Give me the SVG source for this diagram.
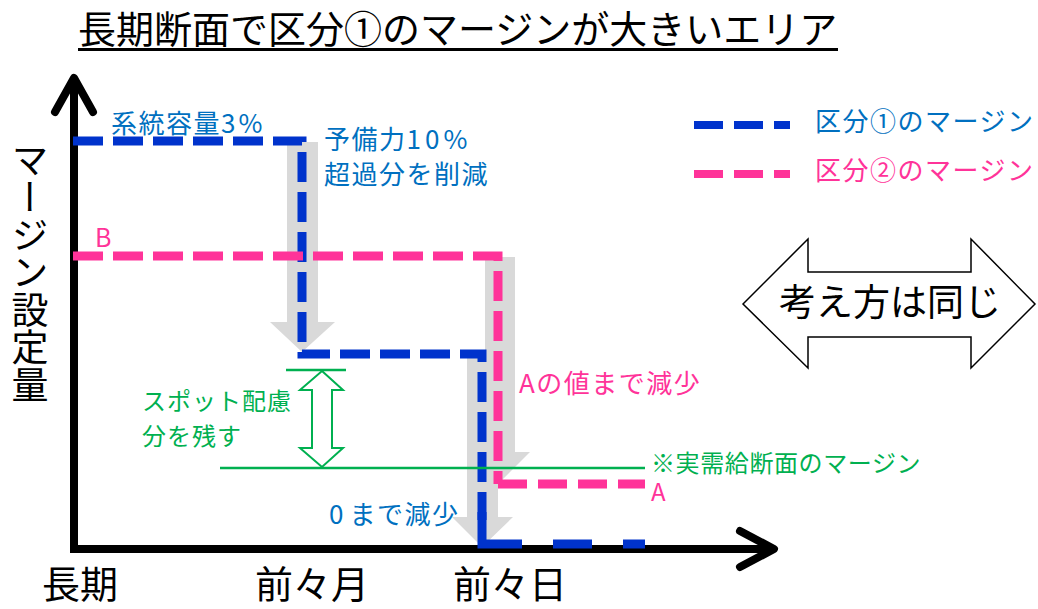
<svg xmlns="http://www.w3.org/2000/svg" width="1038" height="609" viewBox="0 0 1038 609">
<style>
text { font-family: "Noto Sans CJK JP", "Noto Sans", sans-serif; }
.k { fill:#000; font-size:38px; }
.bt { fill:#0070C0; font-size:26px; letter-spacing:1.5px; }
.pt { fill:#FF3399; font-size:26px; letter-spacing:1.5px; }
.gt { fill:#00B050; font-size:24px; letter-spacing:1px; }
.gray { fill:#D9D9D9; }
.bl { fill:none; stroke:#0033CC; stroke-width:9; stroke-dasharray:30 10; stroke-linejoin:miter; }
.pl { fill:none; stroke:#FF3399; stroke-width:9; stroke-dasharray:30 10; stroke-linejoin:miter; }
.ax { fill:none; stroke:#000; stroke-width:8; }
.gl { fill:none; stroke:#00B050; stroke-width:2.5; }
</style>
<rect width="1038" height="609" fill="#fff"/>

<g id="title">
  <text class="k" x="78" y="43">長期断面で区分①のマージンが大きいエリア</text>
  <line x1="78" y1="49.5" x2="838" y2="49.5" stroke="#000" stroke-width="3"/>
</g>

<g id="axes">
  <path class="ax" d="M74,80 V549 H772" stroke-linejoin="miter"/>
  <path class="ax" d="M55,112 L74,78 L93,112" stroke-linecap="round" stroke-linejoin="round"/>
  <path class="ax" d="M740,531 L774,549 L740,567" stroke-linecap="round" stroke-linejoin="round"/>
</g>

<g id="axis-labels">
  <text class="k" x="30" y="141" style="writing-mode:vertical-rl; font-size:37px; letter-spacing:0.5px">マージン設定量</text>
  <text class="k" x="42" y="598">長期</text>
  <text class="k" x="255" y="598">前々月</text>
  <text class="k" x="453" y="598">前々日</text>
</g>

<g id="connectors">
  <polygon class="gray" points="287,142 318,142 318,322 335,322 302,352 270,322 287,322"/>
  <polygon class="gray" points="485,257 515,257 515,452 530,452 500,482 469,452 485,452"/>
  <polygon class="gray" points="467,354 498,354 498,517 513,517 482,547 452,517 467,517"/>
  <path class="bl" d="M73,141 H302 V354 H482 V520"/>
  <path d="M482,512 V544 H522 M553,544 H592 M623,544 H645" stroke="#0033CC" stroke-width="9" fill="none" stroke-linejoin="miter"/>
  <path class="pl" d="M73,256 H498 V484"/>
  <path class="pl" d="M498,484 H645" style="stroke-dasharray:29 11"/>
  <line class="gl" x1="220" y1="468" x2="645" y2="468"/>
  <line class="gl" x1="286" y1="370" x2="346" y2="370"/>
  <polygon points="322,371 343,390 332,390 332,448 343,448 322,467 300,448 312,448 312,390 300,390" fill="#fff" stroke="#00B050" stroke-width="2"/>
</g>

<g id="legend">
  <line x1="694" y1="125" x2="790" y2="125" stroke="#0033CC" stroke-width="8" stroke-dasharray="29 11"/>
  <text class="bt" x="815" y="131">区分①のマージン</text>
  <line x1="694" y1="174" x2="790" y2="174" stroke="#FF3399" stroke-width="8" stroke-dasharray="29 11"/>
  <text class="pt" x="815" y="180">区分②のマージン</text>
</g>

<g id="same-idea">
  <polygon points="743,304 808,239 808,272 971,272 971,239 1035,304 971,368 971,337 808,337 808,368" fill="#fff" stroke="#000" stroke-width="1.5"/>
  <text class="k" x="779" y="316" style="font-size:37px">考え方は同じ</text>
</g>

<g id="labels">
  <text class="bt" x="111" y="133">系統容量<tspan style="letter-spacing:3px">3</tspan>%</text>
  <text class="bt" x="324" y="149">予備力<tspan style="letter-spacing:4px">10</tspan>%</text>
  <text class="bt" x="324" y="184">超過分を削減</text>
  <text class="bt" x="329" y="524"><tspan style="letter-spacing:6px">0</tspan>まで減少</text>
  <text class="pt" x="95" y="247" style="font-size:25px; letter-spacing:0">B</text>
  <text class="pt" x="519" y="393">Aの値まで減少</text>
  <text class="pt" x="651" y="501" style="font-size:24px; letter-spacing:0">A</text>
  <text class="gt" x="142" y="410">スポット配慮</text>
  <text class="gt" x="142" y="445">分を残す</text>
  <text class="gt" x="651" y="472" style="letter-spacing:0.6px">※実需給断面のマージン</text>
</g>
</svg>
